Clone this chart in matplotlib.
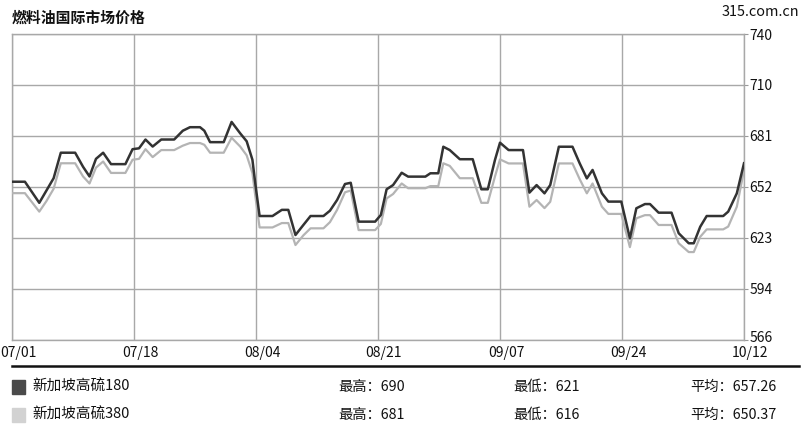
import matplotlib
matplotlib.use("Agg")
import matplotlib.pyplot as plt
import matplotlib.transforms as mtransforms
import numpy as np

plt.rcParams['font.family'] = ['Noto Sans CJK SC', 'DejaVu Sans']

# day offsets from 07/01 where the lines bend
days = [0, 1.8, 3.8, 4.8, 5.8, 6.8, 8.8, 9.9, 10.8, 11.7, 12.7, 13.8, 15.8, 16.8, 17.7,
        18.6, 19.6, 20.8, 22.6, 23.8, 24.8, 26.2, 26.8, 27.6, 29.5, 30.6, 31.8, 32.7,
        33.5, 33.9, 34.5, 36.3, 37.6, 38.5, 39.5, 40.6, 41.6, 43.4, 44.3, 45.3, 46.4,
        47.2, 48.3, 50.6, 51.4, 52.2, 53.1, 54.3, 55.2, 57.6, 58.3, 59.4, 60.1, 61,
        62.4, 64.2, 65.4, 66.3, 67.3, 68, 69.2, 71.2, 72.1, 73.1, 74.2, 75, 76.2, 78.1,
        79.1, 80.1, 80.9, 82.2, 83.1, 84.9, 86.1, 87, 88.2, 88.9, 90.1, 91.9, 92.9,
        94.3, 95, 95.9, 96.8, 99.1, 99.8, 101, 102]

hs180 = [656, 656, 644, 651, 658, 672.5, 672.5, 664.5, 659, 669, 672.5, 666, 666, 674.5, 675,
         680, 676, 680, 680, 685, 687, 687, 685, 678.5, 678.5, 690, 683.5, 679,
         668.5, 655, 636.5, 636.5, 640, 640, 625.7, 631.4, 636.5, 636.5, 639.5, 645.6, 654.7,
         655.4, 633.3, 633.3, 637.1, 651.7, 654.1, 661.1, 658.9, 658.9, 660.8, 660.8, 675.9, 674,
         668.8, 668.8, 651.7, 651.7, 668.4, 678.2, 674, 674, 649.8, 654.1, 649.4, 654.1, 675.9, 675.9,
         666.5, 657.9, 662.7, 649.4, 644.7, 644.7, 623.8, 640.9, 643.3, 643.3, 638.4, 638.4, 626.7,
         621, 621, 630.4, 636.5, 636.5, 639, 649.4, 666.5]

hs380 = [649.5, 649.5, 639, 645, 652, 666.5, 666.5, 659, 655, 664, 667.5, 661, 661, 668.5, 669,
         674.5, 670, 674, 674, 676.5, 678, 678, 677, 672.5, 672.5, 681, 676, 671,
         661, 648, 630, 630, 632.5, 632.5, 620, 625.5, 629.5, 629.5, 633, 640, 650,
         651, 628.5, 628.5, 632, 646.5, 649, 655, 652.3, 652.3, 653.5, 653.5, 666.5, 665,
         658, 658, 644, 644, 659, 668.7, 666.4, 666.4, 641.8, 645.6, 641, 644.6, 666.4, 666.4,
         657.5, 649.4, 655, 641.8, 637.7, 637.7, 618.8, 635.2, 637, 637, 631.4, 631.4, 621,
         616, 616, 624.7, 628.9, 628.9, 630.5, 641.8, 662.5]

date_labels = ['07/01', '07/18', '08/04', '08/21', '09/07', '09/24', '10/12']
date_days = [0, 17, 34, 51, 68, 85, 102]
ytick_labels = ['566', '594', '623', '652', '681', '710', '740']

names = ['新加坡高硫180', '新加坡高硫380']
highs = ['690', '681']
lows = ['621', '616']
avgs = ['657.26', '650.37']

W, H = 804, 424
fig = plt.figure(figsize=(W / 100, H / 100), dpi=100)
ax = fig.add_axes([12 / W, (H - 340) / H, 732 / W, 306 / H])

ax.plot(days, hs380, color='#b4b4b4', lw=1.6, zorder=3)
ax.plot(days, hs180, color='#333333', lw=1.8, zorder=4)

ax.set_xlim(0, 102)
ax.set_ylim(566, 740)
ax.set_xticks(date_days)
ax.set_xticklabels(date_labels, fontsize=10)
ax.set_yticks(np.linspace(566, 740, 7))
ax.set_yticklabels(ytick_labels, fontsize=10)
ax.yaxis.tick_right()
ax.tick_params(axis='x', length=0, pad=4, colors='#111111')
ax.tick_params(axis='y', length=3, pad=1, colors='#111111', color='#999999')
shift = mtransforms.ScaledTranslation(6 / 100, 0, fig.dpi_scale_trans)
for lab in ax.get_xticklabels():
    lab.set_transform(lab.get_transform() + shift)
# lowest y label sits just above the last date label
up = mtransforms.ScaledTranslation(0, 4 / 100, fig.dpi_scale_trans)
lab566 = ax.get_yticklabels()[0]
lab566.set_transform(lab566.get_transform() + up)
ax.grid(True, color='#a8a8a8', lw=1)
for sp in ax.spines.values():
    sp.set_color('#a8a8a8')
    sp.set_linewidth(1)

fig.text(12 / W, 1 - 18 / H, '燃料油国际市场价格', fontsize=10.7, fontweight='bold',
         va='center', ha='left', color='#111111')
fig.text(799 / W, 1 - 12 / H, '315.com.cn', fontsize=10.4, va='center', ha='right',
         color='#111111')

# separator line above the legend
fig.add_artist(plt.Line2D([12 / W, 799 / W], [1 - 366 / H, 1 - 366 / H],
                          color='#111111', lw=1.8))

sq_colors = ['#4a4a4a', '#d2d2d2']
rows_y = [387, 415]
for i in range(2):
    yc = 1 - rows_y[i] / H
    fig.add_artist(plt.Rectangle((12 / W, yc - 7 / H), 13 / W, 14 / H,
                                 color=sq_colors[i], transform=fig.transFigure))
    fig.text(32 / W, yc, names[i], fontsize=10.5, va='center', ha='left', color='#111111')
    fig.text(338 / W, yc, '最高：' + highs[i], fontsize=10.3, va='center', ha='left', color='#111111')
    fig.text(513 / W, yc, '最低：' + lows[i], fontsize=10.3, va='center', ha='left', color='#111111')
    fig.text(690 / W, yc, '平均：' + avgs[i], fontsize=10.3, va='center', ha='left', color='#111111')

fig.savefig('out.png', dpi=100, facecolor='white')
